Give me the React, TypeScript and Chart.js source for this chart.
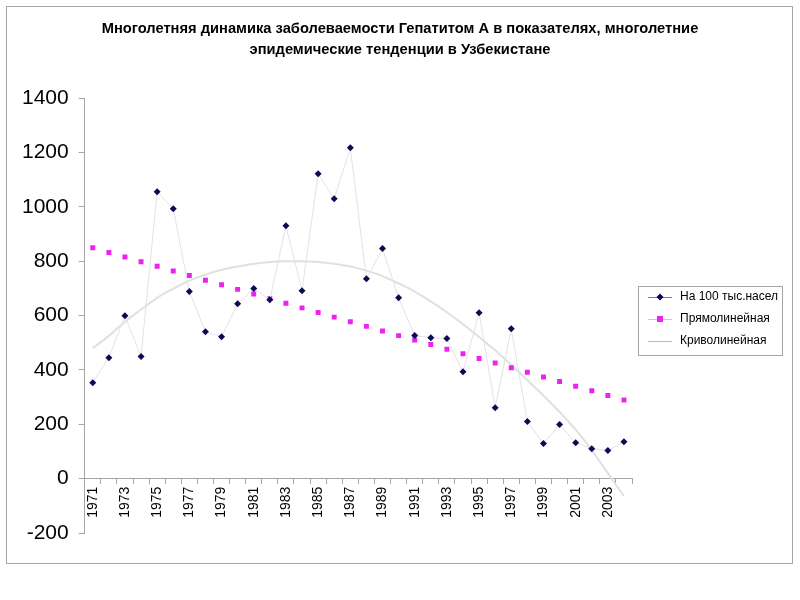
import { useEffect, useRef } from "react";
import { Chart, registerables, Plugin } from "chart.js";

Chart.register(...registerables);

const years = [
  "1971", "1972", "1973", "1974", "1975", "1976", "1977", "1978", "1979", "1980",
  "1981", "1982", "1983", "1984", "1985", "1986", "1987", "1988", "1989", "1990",
  "1991", "1992", "1993", "1994", "1995", "1996", "1997", "1998", "1999", "2000",
  "2001", "2002", "2003", "2004",
];

// На 100 тыс. населения
const incidence = [
  353, 445, 599, 449, 1055, 993, 688, 540, 522, 643,
  699, 658, 930, 691, 1121, 1029, 1217, 735, 846, 665,
  526, 518, 515, 393, 610, 261, 551, 210, 129, 199,
  132, 110, 103, 136,
];

// Прямолинейная тенденция
const linearTrend = [
  849, 832, 815, 798, 781, 764, 747, 730, 713, 696,
  679, 662, 645, 628, 611, 594, 577, 560, 543, 526,
  510, 493, 476, 459, 442, 425, 408, 391, 374, 357,
  340, 323, 306, 289,
];

// Криволинейная тенденция
const curveTrend = [
  480, 525, 577, 622, 665, 698, 728, 750, 768, 780,
  790, 797, 800, 800, 797, 790, 780, 765, 745, 718,
  688, 652, 612, 568, 521, 472, 418, 362, 305, 245,
  180, 105, 20, -65,
];

const yTicks = [-200, 0, 200, 400, 600, 800, 1000, 1200, 1400];

const titleLines = [
  "Многолетняя динамика заболеваемости Гепатитом А в показателях, многолетние",
  "эпидемические тенденции в Узбекистане",
];

const FONT = "'Liberation Sans', Arial, sans-serif";

// outer frame and the title, centred on the whole picture
const framePlugin: Plugin<"line"> = {
  id: "frame",
  beforeDraw(chart) {
    const ctx = chart.ctx;
    ctx.save();
    ctx.fillStyle = "#ffffff";
    ctx.fillRect(0, 0, chart.width, chart.height);
    ctx.strokeStyle = "#a6a6a6";
    ctx.lineWidth = 1;
    ctx.strokeRect(6.5, 6.5, 786, 557);

    ctx.fillStyle = "#000000";
    ctx.font = `bold 14.7px ${FONT}`;
    ctx.textAlign = "center";
    ctx.textBaseline = "middle";
    titleLines.forEach((t, i) => ctx.fillText(t, 400, 29 + i * 21));
    ctx.restore();
  },
};

// legend box on the right, drawn like the spreadsheet legend
const legendPlugin: Plugin<"line"> = {
  id: "sideLegend",
  afterDraw(chart) {
    const ctx = chart.ctx;
    const x = 638;
    const y = 286;
    ctx.save();
    ctx.fillStyle = "#ffffff";
    ctx.fillRect(x, y, 144, 69);
    ctx.strokeStyle = "#a6a6a6";
    ctx.lineWidth = 1;
    ctx.strokeRect(x + 0.5, y + 0.5, 144, 69);

    const rows = [
      { label: chart.data.datasets[0].label, line: "#7a7a90", kind: "diamond" },
      { label: chart.data.datasets[1].label, line: "#f2b0f2", kind: "square" },
      { label: chart.data.datasets[2].label, line: "#b8b8b8", kind: "none" },
    ];
    rows.forEach((r, i) => {
      const cy = y + 11 + i * 22;
      ctx.strokeStyle = r.line;
      ctx.lineWidth = 1;
      ctx.beginPath();
      ctx.moveTo(648, cy + 0.5);
      ctx.lineTo(672, cy + 0.5);
      ctx.stroke();
      if (r.kind === "diamond") {
        ctx.fillStyle = "#0b0b55";
        ctx.beginPath();
        ctx.moveTo(660, cy - 3.5);
        ctx.lineTo(663.5, cy);
        ctx.lineTo(660, cy + 3.5);
        ctx.lineTo(656.5, cy);
        ctx.closePath();
        ctx.fill();
      } else if (r.kind === "square") {
        ctx.fillStyle = "#ee22ee";
        ctx.fillRect(657, cy - 3, 6, 6);
      }
      ctx.fillStyle = "#000000";
      ctx.font = `12px ${FONT}`;
      ctx.textBaseline = "middle";
      ctx.fillText(r.label as string, 680, cy);
    });
    ctx.restore();
  },
};

export default function App() {
  const canvasRef = useRef<HTMLCanvasElement>(null);
  const chartRef = useRef<Chart | null>(null);

  useEffect(() => {
    if (!canvasRef.current) return;
    if (chartRef.current) chartRef.current.destroy();

    chartRef.current = new Chart(canvasRef.current, {
      type: "line",
      data: {
        labels: years,
        datasets: [
          {
            label: "На 100 тыс.насел",
            data: incidence,
            borderColor: "#e2e2ea",
            borderWidth: 1,
            pointStyle: "rectRot",
            pointRadius: 3.5,
            pointBackgroundColor: "#0b0b55",
            pointBorderColor: "#0b0b55",
            pointBorderWidth: 0,
            tension: 0,
            order: 1,
          },
          {
            label: "Прямолинейная",
            data: linearTrend,
            showLine: false,
            pointStyle: "rect",
            pointRadius: 3.5,
            pointBackgroundColor: "#ee22ee",
            pointBorderColor: "#ee22ee",
            pointBorderWidth: 0,
            order: 2,
          },
          {
            label: "Криволинейная",
            data: curveTrend,
            borderColor: "#e0e0e0",
            borderWidth: 2,
            pointRadius: 0,
            cubicInterpolationMode: "monotone",
            order: 3,
          },
        ],
      },
      options: {
        animation: false,
        responsive: true,
        maintainAspectRatio: false,
        layout: {
          padding: { top: 98, left: 12, right: 168, bottom: 67 },
        },
        plugins: {
          legend: { display: false },
          tooltip: { enabled: false },
          title: { display: false },
        },
        scales: {
          x: {
            type: "category",
            position: { y: 0 },
            offset: true,
            border: { color: "#a6a6a6", width: 1 },
            grid: {
              offset: true,
              drawOnChartArea: false,
              color: "#a6a6a6",
              tickLength: 5,
            },
            ticks: {
              autoSkip: false,
              minRotation: 90,
              maxRotation: 90,
              padding: 3,
              color: "#000000",
              font: { family: FONT, size: 14 },
              callback: (_v, i) => (i % 2 === 0 ? years[i] : ""),
            },
          },
          y: {
            min: yTicks[0],
            max: yTicks[yTicks.length - 1],
            afterBuildTicks: (scale) => {
              scale.ticks = yTicks.map((v) => ({ value: v }));
            },
            border: { color: "#a6a6a6", width: 1 },
            grid: {
              drawOnChartArea: false,
              color: "#a6a6a6",
              tickLength: 6,
            },
            ticks: {
              padding: 10,
              color: "#000000",
              font: { family: FONT, size: 21 },
              callback: (v) => String(v),
            },
          },
        },
      },
      plugins: [framePlugin, legendPlugin],
    });

    return () => {
      if (chartRef.current) {
        chartRef.current.destroy();
        chartRef.current = null;
      }
    };
  }, []);

  return (
    <div style={{ position: "absolute", left: 0, top: 0, width: 800, height: 600 }}>
      <canvas ref={canvasRef} />
    </div>
  );
}
